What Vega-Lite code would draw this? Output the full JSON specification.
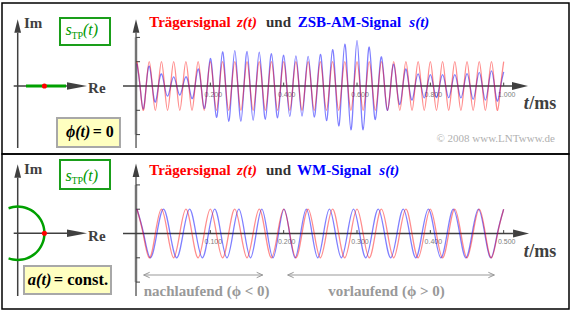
{
"$schema":"https://vega.github.io/schema/vega-lite/v6.json",
"padding":{"left":1,"top":2,"right":2,"bottom":2},
"background":"white",
"spacing":0,
"bounds":"flush",
"config":{"view":{"stroke":"#000000","strokeWidth":1.5},"text":{"font":"Liberation Serif"},"concat":{"spacing":0}},
"datasets":{
"top":[{"t":0,"z":1,"s":0.92},{"t":0.0083,"z":0,"s":0},{"t":0.0167,"z":-1,"s":-0.95},{"t":0.025,"z":0,"s":0},
{"t":0.0333,"z":1,"s":0.82},{"t":0.0417,"z":0,"s":0},{"t":0.05,"z":-1,"s":-0.66},{"t":0.0583,"z":0,"s":0},
{"t":0.0667,"z":1,"s":0.5},{"t":0.075,"z":0,"s":0},{"t":0.0833,"z":-1,"s":-0.42},{"t":0.0917,"z":0,"s":0},
{"t":0.1,"z":1,"s":0.38},{"t":0.1083,"z":0,"s":0},{"t":0.1167,"z":-1,"s":-0.37},{"t":0.125,"z":0,"s":0},
{"t":0.1333,"z":1,"s":0.38},{"t":0.1417,"z":0,"s":0},{"t":0.15,"z":-1,"s":-0.52},{"t":0.1583,"z":0,"s":0},
{"t":0.1667,"z":1,"s":0.7},{"t":0.175,"z":0,"s":0},{"t":0.1833,"z":-1,"s":-0.92},{"t":0.1917,"z":0,"s":0},
{"t":0.2,"z":1,"s":1.13},{"t":0.2083,"z":0,"s":0},{"t":0.2167,"z":-1,"s":-1.29},{"t":0.225,"z":0,"s":0},
{"t":0.2333,"z":1,"s":1.4},{"t":0.2417,"z":0,"s":0},{"t":0.25,"z":-1,"s":-1.45},{"t":0.2583,"z":0,"s":0},
{"t":0.2667,"z":1,"s":1.46},{"t":0.275,"z":0,"s":0},{"t":0.2833,"z":-1,"s":-1.45},{"t":0.2917,"z":0,"s":0},
{"t":0.3,"z":1,"s":1.42},{"t":0.3083,"z":0,"s":0},{"t":0.3167,"z":-1,"s":-1.41},{"t":0.325,"z":0,"s":0},
{"t":0.3333,"z":1,"s":1.39},{"t":0.3417,"z":0,"s":0},{"t":0.35,"z":-1,"s":-1.37},{"t":0.3583,"z":0,"s":0},
{"t":0.3667,"z":1,"s":1.33},{"t":0.375,"z":0,"s":0},{"t":0.3833,"z":-1,"s":-1.31},{"t":0.3917,"z":0,"s":0},
{"t":0.4,"z":1,"s":1.27},{"t":0.4083,"z":0,"s":0},{"t":0.4167,"z":-1,"s":-1.25},{"t":0.425,"z":0,"s":0},
{"t":0.4333,"z":1,"s":1.24},{"t":0.4417,"z":0,"s":0},{"t":0.45,"z":-1,"s":-1.24},{"t":0.4583,"z":0,"s":0},
{"t":0.4667,"z":1,"s":1.22},{"t":0.475,"z":0,"s":0},{"t":0.4833,"z":-1,"s":-1.28},{"t":0.4917,"z":0,"s":0},
{"t":0.5,"z":1,"s":1.3},{"t":0.5083,"z":0,"s":0},{"t":0.5167,"z":-1,"s":-1.42},{"t":0.525,"z":0,"s":0},
{"t":0.5333,"z":1,"s":1.5},{"t":0.5417,"z":0,"s":0},{"t":0.55,"z":-1,"s":-1.64},{"t":0.5583,"z":0,"s":0},
{"t":0.5667,"z":1,"s":1.72},{"t":0.575,"z":0,"s":0},{"t":0.5833,"z":-1,"s":-1.8},{"t":0.5917,"z":0,"s":0},
{"t":0.6,"z":1,"s":1.88},{"t":0.6083,"z":0,"s":0},{"t":0.6167,"z":-1,"s":-1.8},{"t":0.625,"z":0,"s":0},
{"t":0.6333,"z":1,"s":1.6},{"t":0.6417,"z":0,"s":0},{"t":0.65,"z":-1,"s":-1.38},{"t":0.6583,"z":0,"s":0},
{"t":0.6667,"z":1,"s":1.2},{"t":0.675,"z":0,"s":0},{"t":0.6833,"z":-1,"s":-1.0},{"t":0.6917,"z":0,"s":0},
{"t":0.7,"z":1,"s":0.9},{"t":0.7083,"z":0,"s":0},{"t":0.7167,"z":-1,"s":-0.76},{"t":0.725,"z":0,"s":0},
{"t":0.7333,"z":1,"s":0.7},{"t":0.7417,"z":0,"s":0},{"t":0.75,"z":-1,"s":-0.58},{"t":0.7583,"z":0,"s":0},
{"t":0.7667,"z":1,"s":0.5},{"t":0.775,"z":0,"s":0},{"t":0.7833,"z":-1,"s":-0.49},{"t":0.7917,"z":0,"s":0},
{"t":0.8,"z":1,"s":0.47},{"t":0.8083,"z":0,"s":0},{"t":0.8167,"z":-1,"s":-0.48},{"t":0.825,"z":0,"s":0},
{"t":0.8333,"z":1,"s":0.47},{"t":0.8417,"z":0,"s":0},{"t":0.85,"z":-1,"s":-0.48},{"t":0.8583,"z":0,"s":0},
{"t":0.8667,"z":1,"s":0.47},{"t":0.875,"z":0,"s":0},{"t":0.8833,"z":-1,"s":-0.49},{"t":0.8917,"z":0,"s":0},
{"t":0.9,"z":1,"s":0.51},{"t":0.9083,"z":0,"s":0},{"t":0.9167,"z":-1,"s":-0.55},{"t":0.925,"z":0,"s":0},
{"t":0.9333,"z":1,"s":0.56},{"t":0.9417,"z":0,"s":0},{"t":0.95,"z":-1,"s":-0.58},{"t":0.9583,"z":0,"s":0},
{"t":0.9667,"z":1,"s":0.62},{"t":0.975,"z":0,"s":0},{"t":0.9833,"z":-1,"s":-0.62},{"t":0.9917,"z":0,"s":0},
{"t":1,"z":1,"s":0.58}],
"bot":[{"tz":0,"ts":0,"v":1},{"tz":0.0083,"ts":0.009,"v":0},{"tz":0.0167,"ts":0.018,"v":-1},{"tz":0.025,"ts":0.0271,"v":0},
{"tz":0.0333,"ts":0.0361,"v":1},{"tz":0.0417,"ts":0.0451,"v":0},{"tz":0.05,"ts":0.0541,"v":-1},{"tz":0.0583,"ts":0.0629,"v":0},
{"tz":0.0667,"ts":0.0717,"v":1},{"tz":0.075,"ts":0.0804,"v":0},{"tz":0.0833,"ts":0.0891,"v":-1},{"tz":0.0917,"ts":0.0975,"v":0},
{"tz":0.1,"ts":0.106,"v":1},{"tz":0.1083,"ts":0.1143,"v":0},{"tz":0.1167,"ts":0.1227,"v":-1},{"tz":0.125,"ts":0.1308,"v":0},
{"tz":0.1333,"ts":0.1389,"v":1},{"tz":0.1417,"ts":0.1468,"v":0},{"tz":0.15,"ts":0.1548,"v":-1},{"tz":0.1583,"ts":0.1625,"v":0},
{"tz":0.1667,"ts":0.1702,"v":1},{"tz":0.175,"ts":0.1778,"v":0},{"tz":0.1833,"ts":0.1854,"v":-1},{"tz":0.1917,"ts":0.193,"v":0},
{"tz":0.2,"ts":0.2005,"v":1},{"tz":0.2083,"ts":0.2081,"v":0},{"tz":0.2167,"ts":0.2156,"v":-1},{"tz":0.225,"ts":0.2232,"v":0},
{"tz":0.2333,"ts":0.2309,"v":1},{"tz":0.2417,"ts":0.2387,"v":0},{"tz":0.25,"ts":0.2465,"v":-1},{"tz":0.2583,"ts":0.2544,"v":0},
{"tz":0.2667,"ts":0.2624,"v":1},{"tz":0.275,"ts":0.2706,"v":0},{"tz":0.2833,"ts":0.2787,"v":-1},{"tz":0.2917,"ts":0.287,"v":0},
{"tz":0.3,"ts":0.2952,"v":1},{"tz":0.3083,"ts":0.3036,"v":0},{"tz":0.3167,"ts":0.312,"v":-1},{"tz":0.325,"ts":0.3205,"v":0},
{"tz":0.3333,"ts":0.329,"v":1},{"tz":0.3417,"ts":0.3375,"v":0},{"tz":0.35,"ts":0.346,"v":-1},{"tz":0.3583,"ts":0.3546,"v":0},
{"tz":0.3667,"ts":0.3631,"v":1},{"tz":0.375,"ts":0.3717,"v":0},{"tz":0.3833,"ts":0.3802,"v":-1},{"tz":0.3917,"ts":0.3887,"v":0},
{"tz":0.4,"ts":0.3973,"v":1},{"tz":0.4083,"ts":0.4058,"v":0},{"tz":0.4167,"ts":0.4144,"v":-1},{"tz":0.425,"ts":0.4229,"v":0},
{"tz":0.4333,"ts":0.4314,"v":1},{"tz":0.4417,"ts":0.44,"v":0},{"tz":0.45,"ts":0.4485,"v":-1},{"tz":0.4583,"ts":0.457,"v":0},
{"tz":0.4667,"ts":0.4656,"v":1},{"tz":0.475,"ts":0.4742,"v":0},{"tz":0.4833,"ts":0.4828,"v":-1},{"tz":0.4917,"ts":0.4914,"v":0},
{"tz":0.5,"ts":0.5,"v":1}],
"arc":[{"k":0,"u":-0.342,"w":0.94},{"k":1,"u":-0.174,"w":0.985},{"k":2,"u":0,"w":1},{"k":3,"u":0.174,"w":0.985},{"k":4,"u":0.342,"w":0.94},{"k":5,"u":0.5,"w":0.866},{"k":6,"u":0.643,"w":0.766},{"k":7,"u":0.766,"w":0.643},{"k":8,"u":0.866,"w":0.5},{"k":9,"u":0.94,"w":0.342},{"k":10,"u":0.985,"w":0.174},{"k":11,"u":1,"w":0},{"k":12,"u":0.985,"w":-0.174},{"k":13,"u":0.94,"w":-0.342},{"k":14,"u":0.866,"w":-0.5},{"k":15,"u":0.766,"w":-0.643},{"k":16,"u":0.643,"w":-0.766},{"k":17,"u":0.5,"w":-0.866},{"k":18,"u":0.342,"w":-0.94},{"k":19,"u":0.174,"w":-0.985},{"k":20,"u":0,"w":-1},{"k":21,"u":-0.174,"w":-0.985},{"k":22,"u":-0.342,"w":-0.94}],
"xt_top":[{"t":0.2},{"t":0.4},{"t":0.6},{"t":0.8},{"t":1.0}],
"xt_bot":[{"t":0.1},{"t":0.2},{"t":0.3},{"t":0.4},{"t":0.5}],
"yt":[{"v":-2},{"v":-1},{"v":1},{"v":2}],
"spans":[{"a":0.0091,"b":0.1714},{"a":0.2055,"b":0.4873}]
},
"vconcat":[
{"width":567,"height":151,
"resolve":{"scale":{"x":"independent","y":"independent"}},
"layer":[
{"data":{"values":[{}]},
"layer":[
{"mark":{"type":"rule","color":"#404040","strokeWidth":1.5},"encoding":{"x":{"datum":-0.15,"scale":{"domain":[-0.588,20.648],"nice":false,"zero":false},"axis":null},"x2":{"datum":1.846},"y":{"datum":0,"scale":{"domain":[-2.547,3.109],"nice":false,"zero":false},"axis":null}}},
{"mark":{"type":"point","shape":"M-1,-0.375L1,0L-1,0.375Z","size":400,"filled":true,"opacity":1,"color":"#404040","strokeWidth":0},"encoding":{"x":{"datum":2.221,"scale":{"domain":[-0.588,20.648],"nice":false,"zero":false},"axis":null},"y":{"datum":0,"scale":{"domain":[-2.547,3.109],"nice":false,"zero":false},"axis":null}}},
{"mark":{"type":"rule","color":"#404040","strokeWidth":1.5},"encoding":{"x":{"datum":0,"scale":{"domain":[-0.588,20.648],"nice":false,"zero":false},"axis":null},"y":{"datum":-2.322,"scale":{"domain":[-2.547,3.109],"nice":false,"zero":false},"axis":null},"y2":{"datum":1.996}}},
{"mark":{"type":"point","shape":"M-0.5,1L0,-1L0.5,1Z","size":180,"filled":true,"opacity":1,"color":"#404040","strokeWidth":0},"encoding":{"x":{"datum":0,"scale":{"domain":[-0.588,20.648],"nice":false,"zero":false},"axis":null},"y":{"datum":2.247,"scale":{"domain":[-2.547,3.109],"nice":false,"zero":false},"axis":null}}},
{"mark":{"type":"rule","color":"#00a000","strokeWidth":3},"encoding":{"x":{"datum":0.311,"scale":{"domain":[-0.588,20.648],"nice":false,"zero":false},"axis":null},"x2":{"datum":1.809},"y":{"datum":0,"scale":{"domain":[-2.547,3.109],"nice":false,"zero":false},"axis":null}}},
{"mark":{"type":"point","shape":"circle","size":26,"filled":true,"opacity":1,"color":"#ff0000","strokeWidth":0},"encoding":{"x":{"datum":1,"scale":{"domain":[-0.588,20.648],"nice":false,"zero":false},"axis":null},"y":{"datum":0,"scale":{"domain":[-2.547,3.109],"nice":false,"zero":false},"axis":null}}},
{"mark":{"type":"text","text":"Im","align":"left","baseline":"middle","fontSize":15,"fontWeight":"bold","color":"#404040"},"encoding":{"x":{"datum":0.236,"scale":{"domain":[-0.588,20.648],"nice":false,"zero":false},"axis":null},"y":{"datum":2.36,"scale":{"domain":[-2.547,3.109],"nice":false,"zero":false},"axis":null}}},
{"mark":{"type":"text","text":"Re","align":"left","baseline":"middle","fontSize":15,"fontWeight":"bold","color":"#404040"},"encoding":{"x":{"datum":2.637,"scale":{"domain":[-0.588,20.648],"nice":false,"zero":false},"axis":null},"y":{"datum":-0.086,"scale":{"domain":[-2.547,3.109],"nice":false,"zero":false},"axis":null}}},
{"mark":{"type":"rect","fill":"#ffffff","stroke":"#1a9e1a","strokeWidth":2},"encoding":{"x":{"datum":1.584,"scale":{"domain":[-0.588,20.648],"nice":false,"zero":false},"axis":null},"x2":{"datum":3.457},"y":{"datum":1.536,"scale":{"domain":[-2.547,3.109],"nice":false,"zero":false},"axis":null},"y2":{"datum":2.547}}},
{"mark":{"type":"text","text":"s","align":"left","baseline":"middle","fontSize":16,"fontStyle":"italic","color":"#009900"},"encoding":{"x":{"datum":1.79,"scale":{"domain":[-0.588,20.648],"nice":false,"zero":false},"axis":null},"y":{"datum":2.086,"scale":{"domain":[-2.547,3.109],"nice":false,"zero":false},"axis":null}}},
{"mark":{"type":"text","text":"TP","align":"left","baseline":"middle","fontSize":10,"color":"#009900"},"encoding":{"x":{"datum":2.015,"scale":{"domain":[-0.588,20.648],"nice":false,"zero":false},"axis":null},"y":{"datum":1.873,"scale":{"domain":[-2.547,3.109],"nice":false,"zero":false},"axis":null}}},
{"mark":{"type":"text","text":"(t)","align":"left","baseline":"middle","fontSize":16,"fontStyle":"italic","color":"#009900"},"encoding":{"x":{"datum":2.446,"scale":{"domain":[-0.588,20.648],"nice":false,"zero":false},"axis":null},"y":{"datum":2.086,"scale":{"domain":[-2.547,3.109],"nice":false,"zero":false},"axis":null}}},
{"mark":{"type":"rect","fill":"#ffffc0","stroke":"#a8a8a8","strokeWidth":2},"encoding":{"x":{"datum":1.472,"scale":{"domain":[-0.588,20.648],"nice":false,"zero":false},"axis":null},"x2":{"datum":3.831},"y":{"datum":-2.285,"scale":{"domain":[-2.547,3.109],"nice":false,"zero":false},"axis":null},"y2":{"datum":-1.199}}},
{"mark":{"type":"text","text":"ϕ(t)","align":"left","baseline":"middle","fontSize":16,"fontWeight":"bold","fontStyle":"italic","color":"#000000"},"encoding":{"x":{"datum":1.809,"scale":{"domain":[-0.588,20.648],"nice":false,"zero":false},"axis":null},"y":{"datum":-1.723,"scale":{"domain":[-2.547,3.109],"nice":false,"zero":false},"axis":null}}},
{"mark":{"type":"text","text":"= 0","align":"left","baseline":"middle","fontSize":16,"fontWeight":"bold","color":"#000000"},"encoding":{"x":{"datum":2.809,"scale":{"domain":[-0.588,20.648],"nice":false,"zero":false},"axis":null},"y":{"datum":-1.723,"scale":{"domain":[-2.547,3.109],"nice":false,"zero":false},"axis":null}}}
]},
{"data":{"values":[{}]},
"layer":[
{"mark":{"type":"rule","color":"#c0c0c0","strokeWidth":3},"encoding":{"x":{"datum":-0.0027,"scale":{"domain":[-0.3682,1.1781],"nice":false,"zero":false},"axis":null},"y":{"datum":-2,"scale":{"domain":[-2.798,3.416],"nice":false,"zero":false},"axis":null},"y2":{"datum":2}}},
{"mark":{"type":"rule","color":"#404040","strokeWidth":1.2},"encoding":{"x":{"datum":-0.0027,"scale":{"domain":[-0.3682,1.1781],"nice":false,"zero":false},"axis":null},"y":{"datum":-2.551,"scale":{"domain":[-2.798,3.416],"nice":false,"zero":false},"axis":null},"y2":{"datum":2.193}}},
{"mark":{"type":"point","shape":"M-0.5,1L0,-1L0.5,1Z","size":180,"filled":true,"opacity":1,"color":"#404040","strokeWidth":0},"encoding":{"x":{"datum":-0.0027,"scale":{"domain":[-0.3682,1.1781],"nice":false,"zero":false},"axis":null},"y":{"datum":2.469,"scale":{"domain":[-2.798,3.416],"nice":false,"zero":false},"axis":null}}},
{"data":{"name":"yt"},"mark":{"type":"rule","color":"#404040","strokeWidth":1},"encoding":{"x":{"datum":-0.0027,"scale":{"domain":[-0.3682,1.1781],"nice":false,"zero":false},"axis":null},"x2":{"datum":0.0082},"y":{"field":"v","type":"quantitative","scale":{"domain":[-2.798,3.416],"nice":false,"zero":false},"axis":null}}},
{"mark":{"type":"rule","color":"#404040","strokeWidth":1.5},"encoding":{"x":{"datum":-0.0382,"scale":{"domain":[-0.3682,1.1781],"nice":false,"zero":false},"axis":null},"x2":{"datum":1.0226},"y":{"datum":0,"scale":{"domain":[-2.798,3.416],"nice":false,"zero":false},"axis":null}}},
{"mark":{"type":"point","shape":"M-1,-0.5L1,0L-1,0.5Z","size":256,"filled":true,"opacity":1,"color":"#404040","strokeWidth":0},"encoding":{"x":{"datum":1.0445,"scale":{"domain":[-0.3682,1.1781],"nice":false,"zero":false},"axis":null},"y":{"datum":0,"scale":{"domain":[-2.798,3.416],"nice":false,"zero":false},"axis":null}}},
{"data":{"name":"xt_top"},"mark":{"type":"rule","color":"#404040","strokeWidth":1},"encoding":{"x":{"field":"t","type":"quantitative","scale":{"domain":[-0.3682,1.1781],"nice":false,"zero":false},"axis":null},"y":{"datum":0,"scale":{"domain":[-2.798,3.416],"nice":false,"zero":false},"axis":null},"y2":{"datum":0.14}}},
{"data":{"name":"xt_top"},"mark":{"type":"text","align":"center","baseline":"middle","dx":3,"font":"Liberation Sans","fontSize":7,"color":"#808080"},"encoding":{"x":{"field":"t","type":"quantitative","scale":{"domain":[-0.3682,1.1781],"nice":false,"zero":false},"axis":null},"y":{"datum":-0.383,"scale":{"domain":[-2.798,3.416],"nice":false,"zero":false},"axis":null},"text":{"field":"t","type":"quantitative","format":".3f"}}},
{"data":{"name":"top"},"mark":{"type":"line","interpolate":"natural","color":"#0000ff","opacity":0.5,"strokeWidth":1.3},"encoding":{"x":{"field":"t","type":"quantitative","scale":{"domain":[-0.3682,1.1781],"nice":false,"zero":false},"axis":null},"y":{"field":"s","type":"quantitative","scale":{"domain":[-2.798,3.416],"nice":false,"zero":false},"axis":null}}},
{"data":{"name":"top"},"mark":{"type":"line","interpolate":"natural","color":"#ff0000","opacity":0.45,"strokeWidth":1.3},"encoding":{"x":{"field":"t","type":"quantitative","scale":{"domain":[-0.3682,1.1781],"nice":false,"zero":false},"axis":null},"y":{"field":"z","type":"quantitative","scale":{"domain":[-2.798,3.416],"nice":false,"zero":false},"axis":null}}},
{"mark":{"type":"text","text":"Trägersignal","align":"left","baseline":"middle","fontSize":15,"fontWeight":"bold","color":"#ff0000"},"encoding":{"x":{"datum":0.0335,"scale":{"domain":[-0.3682,1.1781],"nice":false,"zero":false},"axis":null},"y":{"datum":2.646,"scale":{"domain":[-2.798,3.416],"nice":false,"zero":false},"axis":null}}},
{"mark":{"type":"text","text":"z(t)","align":"left","baseline":"middle","fontSize":15,"fontWeight":"bold","fontStyle":"italic","color":"#ff0000"},"encoding":{"x":{"datum":0.2727,"scale":{"domain":[-0.3682,1.1781],"nice":false,"zero":false},"axis":null},"y":{"datum":2.646,"scale":{"domain":[-2.798,3.416],"nice":false,"zero":false},"axis":null}}},
{"mark":{"type":"text","text":"und","align":"left","baseline":"middle","fontSize":15,"fontWeight":"bold","color":"#333333"},"encoding":{"x":{"datum":0.3518,"scale":{"domain":[-0.3682,1.1781],"nice":false,"zero":false},"axis":null},"y":{"datum":2.646,"scale":{"domain":[-2.798,3.416],"nice":false,"zero":false},"axis":null}}},
{"mark":{"type":"text","text":"ZSB-AM-Signal","align":"left","baseline":"middle","fontSize":15,"fontWeight":"bold","color":"#0000ff"},"encoding":{"x":{"datum":0.4382,"scale":{"domain":[-0.3682,1.1781],"nice":false,"zero":false},"axis":null},"y":{"datum":2.646,"scale":{"domain":[-2.798,3.416],"nice":false,"zero":false},"axis":null}}},
{"mark":{"type":"text","text":"s(t)","align":"left","baseline":"middle","fontSize":15,"fontWeight":"bold","fontStyle":"italic","color":"#0000ff"},"encoding":{"x":{"datum":0.7426,"scale":{"domain":[-0.3682,1.1781],"nice":false,"zero":false},"axis":null},"y":{"datum":2.646,"scale":{"domain":[-2.798,3.416],"nice":false,"zero":false},"axis":null}}},
{"mark":{"type":"text","text":"t","align":"left","baseline":"middle","fontSize":18,"fontWeight":"bold","fontStyle":"italic","color":"#404040"},"encoding":{"x":{"datum":1.0545,"scale":{"domain":[-0.3682,1.1781],"nice":false,"zero":false},"axis":null},"y":{"datum":-0.753,"scale":{"domain":[-2.798,3.416],"nice":false,"zero":false},"axis":null}}},
{"mark":{"type":"text","text":"/ms","align":"left","baseline":"middle","fontSize":18,"fontWeight":"bold","color":"#404040"},"encoding":{"x":{"datum":1.0695,"scale":{"domain":[-0.3682,1.1781],"nice":false,"zero":false},"axis":null},"y":{"datum":-0.753,"scale":{"domain":[-2.798,3.416],"nice":false,"zero":false},"axis":null}}},
{"mark":{"type":"text","text":"© 2008 www.LNTwww.de","align":"right","baseline":"middle","fontSize":11,"color":"#b0b0b0"},"encoding":{"x":{"datum":1.1399,"scale":{"domain":[-0.3682,1.1781],"nice":false,"zero":false},"axis":null},"y":{"datum":-2.169,"scale":{"domain":[-2.798,3.416],"nice":false,"zero":false},"axis":null}}}
]}
]},
{"width":567,"height":155,
"resolve":{"scale":{"x":"independent","y":"independent"}},
"layer":[
{"data":{"values":[{}]},
"layer":[
{"mark":{"type":"rule","color":"#404040","strokeWidth":1.5},"encoding":{"x":{"datum":-0.15,"scale":{"domain":[-0.588,20.648],"nice":false,"zero":false},"axis":null},"x2":{"datum":1.846},"y":{"datum":0,"scale":{"domain":[-2.835,2.97],"nice":false,"zero":false},"axis":null}}},
{"mark":{"type":"point","shape":"M-1,-0.375L1,0L-1,0.375Z","size":400,"filled":true,"opacity":1,"color":"#404040","strokeWidth":0},"encoding":{"x":{"datum":2.221,"scale":{"domain":[-0.588,20.648],"nice":false,"zero":false},"axis":null},"y":{"datum":0,"scale":{"domain":[-2.835,2.97],"nice":false,"zero":false},"axis":null}}},
{"mark":{"type":"rule","color":"#404040","strokeWidth":1.5},"encoding":{"x":{"datum":0,"scale":{"domain":[-0.588,20.648],"nice":false,"zero":false},"axis":null},"y":{"datum":-2.348,"scale":{"domain":[-2.835,2.97],"nice":false,"zero":false},"axis":null},"y2":{"datum":2.082}}},
{"mark":{"type":"point","shape":"M-0.5,1L0,-1L0.5,1Z","size":180,"filled":true,"opacity":1,"color":"#404040","strokeWidth":0},"encoding":{"x":{"datum":0,"scale":{"domain":[-0.588,20.648],"nice":false,"zero":false},"axis":null},"y":{"datum":2.333,"scale":{"domain":[-2.835,2.97],"nice":false,"zero":false},"axis":null}}},
{"data":{"name":"arc"},"mark":{"type":"line","interpolate":"natural","color":"#00a000","strokeWidth":2.5},"encoding":{"x":{"field":"u","type":"quantitative","scale":{"domain":[-0.588,20.648],"nice":false,"zero":false},"axis":null},"y":{"field":"w","type":"quantitative","scale":{"domain":[-2.835,2.97],"nice":false,"zero":false},"axis":null},"order":{"field":"k","type":"quantitative"}}},
{"mark":{"type":"point","shape":"circle","size":26,"filled":true,"opacity":1,"color":"#ff0000","strokeWidth":0},"encoding":{"x":{"datum":1,"scale":{"domain":[-0.588,20.648],"nice":false,"zero":false},"axis":null},"y":{"datum":0,"scale":{"domain":[-2.835,2.97],"nice":false,"zero":false},"axis":null}}},
{"mark":{"type":"text","text":"Im","align":"left","baseline":"middle","fontSize":15,"fontWeight":"bold","color":"#404040"},"encoding":{"x":{"datum":0.236,"scale":{"domain":[-0.588,20.648],"nice":false,"zero":false},"axis":null},"y":{"datum":2.397,"scale":{"domain":[-2.835,2.97],"nice":false,"zero":false},"axis":null}}},
{"mark":{"type":"text","text":"Re","align":"left","baseline":"middle","fontSize":15,"fontWeight":"bold","color":"#404040"},"encoding":{"x":{"datum":2.637,"scale":{"domain":[-0.588,20.648],"nice":false,"zero":false},"axis":null},"y":{"datum":-0.101,"scale":{"domain":[-2.835,2.97],"nice":false,"zero":false},"axis":null}}},
{"mark":{"type":"rect","fill":"#ffffff","stroke":"#1a9e1a","strokeWidth":2},"encoding":{"x":{"datum":1.584,"scale":{"domain":[-0.588,20.648],"nice":false,"zero":false},"axis":null},"x2":{"datum":3.457},"y":{"datum":1.659,"scale":{"domain":[-2.835,2.97],"nice":false,"zero":false},"axis":null},"y2":{"datum":2.745}}},
{"mark":{"type":"text","text":"s","align":"left","baseline":"middle","fontSize":16,"fontStyle":"italic","color":"#009900"},"encoding":{"x":{"datum":1.79,"scale":{"domain":[-0.588,20.648],"nice":false,"zero":false},"axis":null},"y":{"datum":2.146,"scale":{"domain":[-2.835,2.97],"nice":false,"zero":false},"axis":null}}},
{"mark":{"type":"text","text":"TP","align":"left","baseline":"middle","fontSize":10,"color":"#009900"},"encoding":{"x":{"datum":2.015,"scale":{"domain":[-0.588,20.648],"nice":false,"zero":false},"axis":null},"y":{"datum":1.96,"scale":{"domain":[-2.835,2.97],"nice":false,"zero":false},"axis":null}}},
{"mark":{"type":"text","text":"(t)","align":"left","baseline":"middle","fontSize":16,"fontStyle":"italic","color":"#009900"},"encoding":{"x":{"datum":2.446,"scale":{"domain":[-0.588,20.648],"nice":false,"zero":false},"axis":null},"y":{"datum":2.146,"scale":{"domain":[-2.835,2.97],"nice":false,"zero":false},"axis":null}}},
{"mark":{"type":"rect","fill":"#ffffc0","stroke":"#a8a8a8","strokeWidth":2},"encoding":{"x":{"datum":0.236,"scale":{"domain":[-0.588,20.648],"nice":false,"zero":false},"axis":null},"x2":{"datum":3.494},"y":{"datum":-2.273,"scale":{"domain":[-2.835,2.97],"nice":false,"zero":false},"axis":null},"y2":{"datum":-1.225}}},
{"mark":{"type":"text","text":"a(t)","align":"left","baseline":"middle","fontSize":16.5,"fontWeight":"bold","fontStyle":"italic","color":"#000000"},"encoding":{"x":{"datum":0.375,"scale":{"domain":[-0.588,20.648],"nice":false,"zero":false},"axis":null},"y":{"datum":-1.749,"scale":{"domain":[-2.835,2.97],"nice":false,"zero":false},"axis":null}}},
{"mark":{"type":"text","text":"= const.","align":"left","baseline":"middle","fontSize":16.5,"fontWeight":"bold","color":"#000000"},"encoding":{"x":{"datum":1.348,"scale":{"domain":[-0.588,20.648],"nice":false,"zero":false},"axis":null},"y":{"datum":-1.749,"scale":{"domain":[-2.835,2.97],"nice":false,"zero":false},"axis":null}}}
]},
{"data":{"values":[{}]},
"layer":[
{"mark":{"type":"rule","color":"#c0c0c0","strokeWidth":3},"encoding":{"x":{"datum":-0.00136,"scale":{"domain":[-0.1841,0.5891],"nice":false,"zero":false},"axis":null},"y":{"datum":-2,"scale":{"domain":[-3.107,3.272],"nice":false,"zero":false},"axis":null},"y2":{"datum":2}}},
{"mark":{"type":"rule","color":"#404040","strokeWidth":1.2},"encoding":{"x":{"datum":-0.00136,"scale":{"domain":[-0.1841,0.5891],"nice":false,"zero":false},"axis":null},"y":{"datum":-2.572,"scale":{"domain":[-3.107,3.272],"nice":false,"zero":false},"axis":null},"y2":{"datum":2.366}}},
{"mark":{"type":"point","shape":"M-0.5,1L0,-1L0.5,1Z","size":180,"filled":true,"opacity":1,"color":"#404040","strokeWidth":0},"encoding":{"x":{"datum":-0.00136,"scale":{"domain":[-0.1841,0.5891],"nice":false,"zero":false},"axis":null},"y":{"datum":2.605,"scale":{"domain":[-3.107,3.272],"nice":false,"zero":false},"axis":null}}},
{"data":{"name":"yt"},"mark":{"type":"rule","color":"#404040","strokeWidth":1},"encoding":{"x":{"datum":-0.00136,"scale":{"domain":[-0.1841,0.5891],"nice":false,"zero":false},"axis":null},"x2":{"datum":0.0041},"y":{"field":"v","type":"quantitative","scale":{"domain":[-3.107,3.272],"nice":false,"zero":false},"axis":null}}},
{"mark":{"type":"rule","color":"#404040","strokeWidth":1.5},"encoding":{"x":{"datum":-0.0191,"scale":{"domain":[-0.1841,0.5891],"nice":false,"zero":false},"axis":null},"x2":{"datum":0.5127},"y":{"datum":0,"scale":{"domain":[-3.107,3.272],"nice":false,"zero":false},"axis":null}}},
{"mark":{"type":"point","shape":"M-1,-0.5L1,0L-1,0.5Z","size":256,"filled":true,"opacity":1,"color":"#404040","strokeWidth":0},"encoding":{"x":{"datum":0.5237,"scale":{"domain":[-0.1841,0.5891],"nice":false,"zero":false},"axis":null},"y":{"datum":0,"scale":{"domain":[-3.107,3.272],"nice":false,"zero":false},"axis":null}}},
{"data":{"name":"xt_bot"},"mark":{"type":"rule","color":"#404040","strokeWidth":1},"encoding":{"x":{"field":"t","type":"quantitative","scale":{"domain":[-0.1841,0.5891],"nice":false,"zero":false},"axis":null},"y":{"datum":0,"scale":{"domain":[-3.107,3.272],"nice":false,"zero":false},"axis":null},"y2":{"datum":0.14}}},
{"data":{"name":"xt_bot"},"mark":{"type":"text","align":"center","baseline":"middle","dx":3,"font":"Liberation Sans","fontSize":7,"color":"#808080"},"encoding":{"x":{"field":"t","type":"quantitative","scale":{"domain":[-0.1841,0.5891],"nice":false,"zero":false},"axis":null},"y":{"datum":-0.337,"scale":{"domain":[-3.107,3.272],"nice":false,"zero":false},"axis":null},"text":{"field":"t","type":"quantitative","format":".3f"}}},
{"data":{"name":"bot"},"mark":{"type":"line","interpolate":"natural","color":"#0000ff","opacity":0.5,"strokeWidth":1.3},"encoding":{"x":{"field":"ts","type":"quantitative","scale":{"domain":[-0.1841,0.5891],"nice":false,"zero":false},"axis":null},"y":{"field":"v","type":"quantitative","scale":{"domain":[-3.107,3.272],"nice":false,"zero":false},"axis":null}}},
{"data":{"name":"bot"},"mark":{"type":"line","interpolate":"natural","color":"#ff0000","opacity":0.45,"strokeWidth":1.3},"encoding":{"x":{"field":"tz","type":"quantitative","scale":{"domain":[-0.1841,0.5891],"nice":false,"zero":false},"axis":null},"y":{"field":"v","type":"quantitative","scale":{"domain":[-3.107,3.272],"nice":false,"zero":false},"axis":null}}},
{"mark":{"type":"text","text":"Trägersignal","align":"left","baseline":"middle","fontSize":15,"fontWeight":"bold","color":"#ff0000"},"encoding":{"x":{"datum":0.01677,"scale":{"domain":[-0.1841,0.5891],"nice":false,"zero":false},"axis":null},"y":{"datum":2.613,"scale":{"domain":[-3.107,3.272],"nice":false,"zero":false},"axis":null}}},
{"mark":{"type":"text","text":"z(t)","align":"left","baseline":"middle","fontSize":15,"fontWeight":"bold","fontStyle":"italic","color":"#ff0000"},"encoding":{"x":{"datum":0.1364,"scale":{"domain":[-0.1841,0.5891],"nice":false,"zero":false},"axis":null},"y":{"datum":2.613,"scale":{"domain":[-3.107,3.272],"nice":false,"zero":false},"axis":null}}},
{"mark":{"type":"text","text":"und","align":"left","baseline":"middle","fontSize":15,"fontWeight":"bold","color":"#333333"},"encoding":{"x":{"datum":0.1759,"scale":{"domain":[-0.1841,0.5891],"nice":false,"zero":false},"axis":null},"y":{"datum":2.613,"scale":{"domain":[-3.107,3.272],"nice":false,"zero":false},"axis":null}}},
{"mark":{"type":"text","text":"WM-Signal","align":"left","baseline":"middle","fontSize":15,"fontWeight":"bold","color":"#0000ff"},"encoding":{"x":{"datum":0.2182,"scale":{"domain":[-0.1841,0.5891],"nice":false,"zero":false},"axis":null},"y":{"datum":2.613,"scale":{"domain":[-3.107,3.272],"nice":false,"zero":false},"axis":null}}},
{"mark":{"type":"text","text":"s(t)","align":"left","baseline":"middle","fontSize":15,"fontWeight":"bold","fontStyle":"italic","color":"#0000ff"},"encoding":{"x":{"datum":0.3304,"scale":{"domain":[-0.1841,0.5891],"nice":false,"zero":false},"axis":null},"y":{"datum":2.613,"scale":{"domain":[-3.107,3.272],"nice":false,"zero":false},"axis":null}}},
{"mark":{"type":"text","text":"t","align":"left","baseline":"middle","fontSize":18,"fontWeight":"bold","fontStyle":"italic","color":"#404040"},"encoding":{"x":{"datum":0.5273,"scale":{"domain":[-0.1841,0.5891],"nice":false,"zero":false},"axis":null},"y":{"datum":-0.761,"scale":{"domain":[-3.107,3.272],"nice":false,"zero":false},"axis":null}}},
{"mark":{"type":"text","text":"/ms","align":"left","baseline":"middle","fontSize":18,"fontWeight":"bold","color":"#404040"},"encoding":{"x":{"datum":0.5348,"scale":{"domain":[-0.1841,0.5891],"nice":false,"zero":false},"axis":null},"y":{"datum":-0.761,"scale":{"domain":[-3.107,3.272],"nice":false,"zero":false},"axis":null}}},
{"data":{"name":"spans"},"mark":{"type":"rule","color":"#999999","strokeWidth":1},"encoding":{"x":{"field":"a","type":"quantitative","scale":{"domain":[-0.1841,0.5891],"nice":false,"zero":false},"axis":null},"x2":{"field":"b"},"y":{"datum":-1.708,"scale":{"domain":[-3.107,3.272],"nice":false,"zero":false},"axis":null}}},
{"data":{"name":"spans"},"mark":{"type":"point","shape":"M2,-0.9L0,0L2,0.9","size":36,"filled":false,"opacity":1,"color":"#999999","strokeWidth":1},"encoding":{"x":{"field":"a","type":"quantitative","scale":{"domain":[-0.1841,0.5891],"nice":false,"zero":false},"axis":null},"y":{"datum":-1.708,"scale":{"domain":[-3.107,3.272],"nice":false,"zero":false},"axis":null}}},
{"data":{"name":"spans"},"mark":{"type":"point","shape":"M-2,-0.9L0,0L-2,0.9","size":36,"filled":false,"opacity":1,"color":"#999999","strokeWidth":1},"encoding":{"x":{"field":"b","type":"quantitative","scale":{"domain":[-0.1841,0.5891],"nice":false,"zero":false},"axis":null},"y":{"datum":-1.708,"scale":{"domain":[-3.107,3.272],"nice":false,"zero":false},"axis":null}}},
{"mark":{"type":"text","text":"nachlaufend (ϕ < 0)","align":"center","baseline":"middle","fontSize":15,"fontWeight":"bold","color":"#999999"},"encoding":{"x":{"datum":0.095,"scale":{"domain":[-0.1841,0.5891],"nice":false,"zero":false},"axis":null},"y":{"datum":-2.366,"scale":{"domain":[-3.107,3.272],"nice":false,"zero":false},"axis":null}}},
{"mark":{"type":"text","text":"vorlaufend (ϕ > 0)","align":"center","baseline":"middle","fontSize":15,"fontWeight":"bold","color":"#999999"},"encoding":{"x":{"datum":0.3402,"scale":{"domain":[-0.1841,0.5891],"nice":false,"zero":false},"axis":null},"y":{"datum":-2.366,"scale":{"domain":[-3.107,3.272],"nice":false,"zero":false},"axis":null}}}
]}
]}
]
}
